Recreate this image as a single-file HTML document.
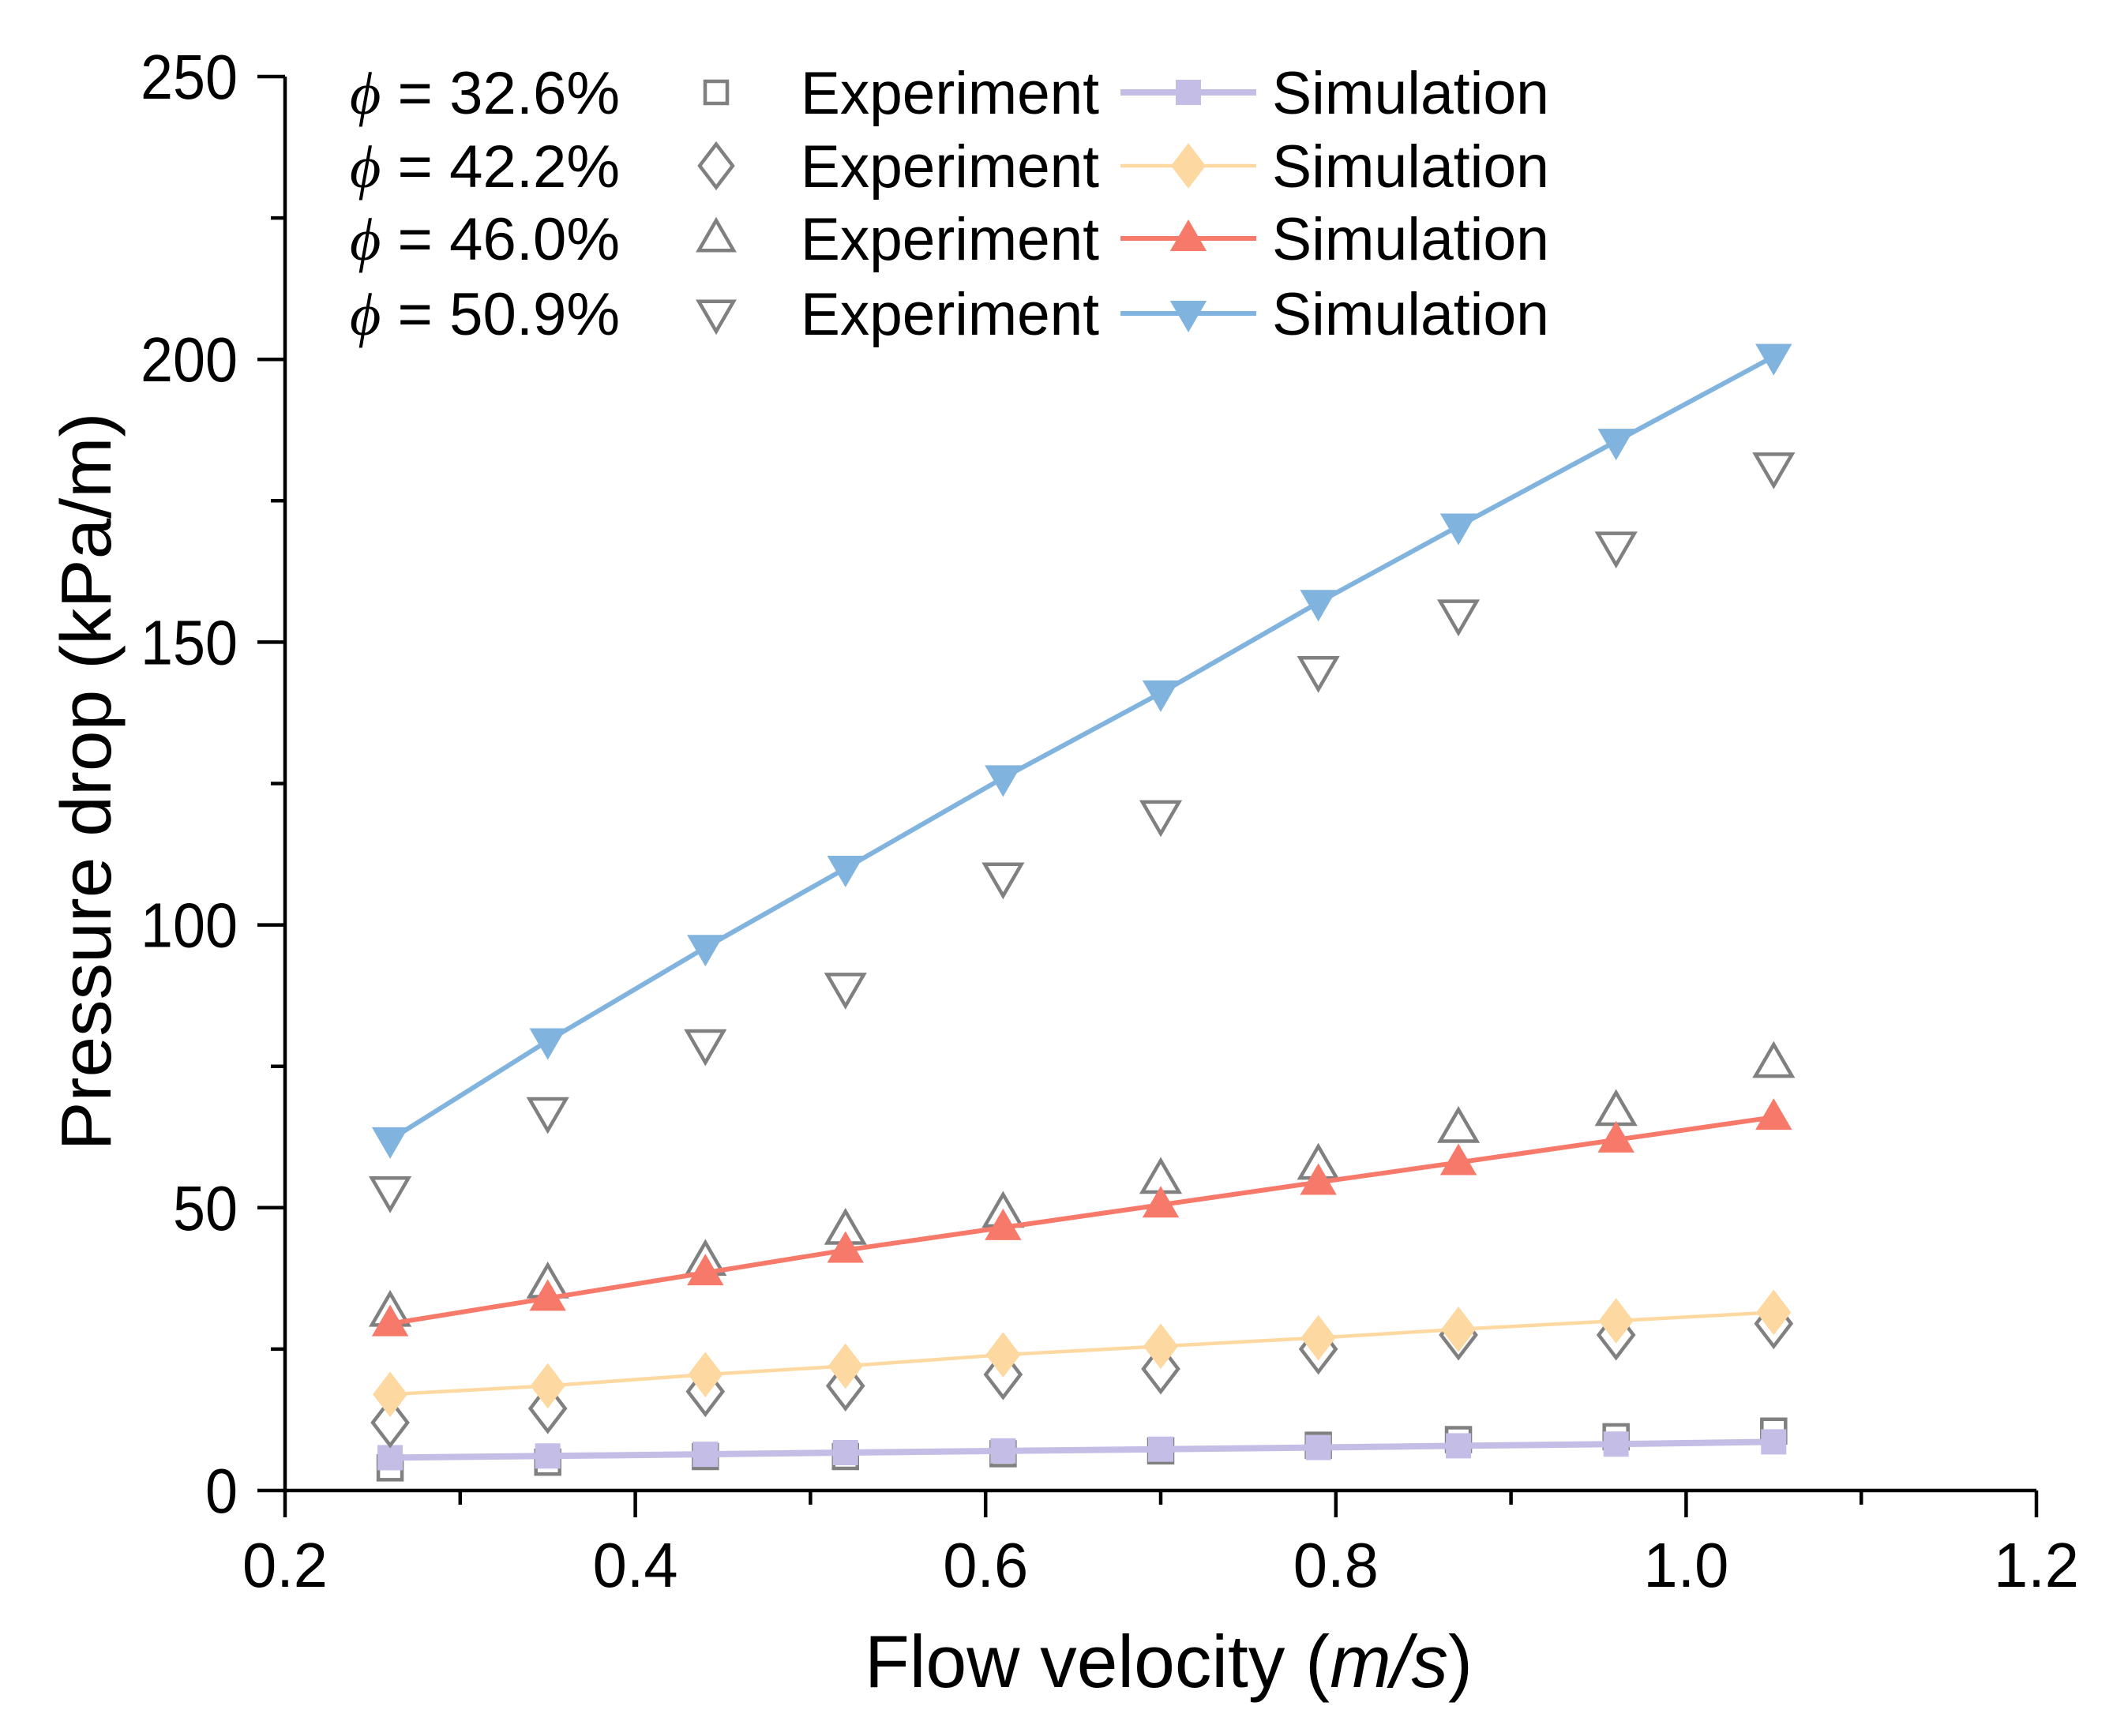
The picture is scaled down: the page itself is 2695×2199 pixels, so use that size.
<!DOCTYPE html>
<html><head><meta charset="utf-8"><style>html,body{margin:0;padding:0;background:#fff}svg{display:block}</style></head>
<body>
<svg id="chart" width="2695" height="2199" viewBox="0 0 2695 2199" xmlns="http://www.w3.org/2000/svg" font-family="'Liberation Sans', sans-serif">
<g id="axes"></g>
<g id="series"></g>
<g id="legend"></g>
</svg>
<script>
const xValues = [0.26,0.35,0.44,0.52,0.61,0.70,0.79,0.87,0.96,1.05];
const simPhi326 = [5.8,6.1,6.4,6.7,7.0,7.3,7.6,7.9,8.2,8.6];
const expPhi326 = [4,5,6,6,6.5,7,8,9,9.5,10.5];
const simPhi422 = [17,18.5,20.5,22,24,25.5,27,28.5,30,31.5];
const expPhi422 = [12,14.5,17.5,18.5,20.5,21.5,25,27.5,27.5,29.5];
const simPhi460 = [29.5,34,38.5,42.5,46.5,50.5,54.5,58,62,66];
const expPhi460 = [31.5,36.5,40.5,46,49,55,57.5,64,67,75.5];
const simPhi509 = [62,79.5,96,110,126,141,157,170.5,185.5,200.5];
const expPhi509 = [53,67,79,89,108.5,119.5,145,155,167,181];
const xTicks = [0.2,0.4,0.6,0.8,1.0,1.2];
const xTickLabels = ["0.2","0.4","0.6","0.8","1.0","1.2"];
const yTicks = [0,50,100,150,200,250];
const yTickLabels = ["0","50","100","150","200","250"];
const legendValues = ["32.6%","42.2%","46.0%","50.9%"];

const NS="http://www.w3.org/2000/svg";
const X0=361,X1=2579,Y0=1888,Y1=97;
function sx(v){return X0+(v-0.2)/(1.0)*(X1-X0);}
function sy(v){return Y0-v/250*(Y0-Y1);}
function mk(tag,attrs,parent){const e=document.createElementNS(NS,tag);for(const k in attrs)e.setAttribute(k,attrs[k]);parent.appendChild(e);return e;}
const axes=document.getElementById('axes'),series=document.getElementById('series'),legend=document.getElementById('legend');

let e;
e=mk('line',{x1:X0-2,y1:Y0,x2:X1,y2:Y0,stroke:'#000','stroke-width':4.5},axes);

e=mk('line',{x1:X0,y1:Y0+2,x2:X0,y2:Y1,stroke:'#000','stroke-width':4.5},axes);

xTicks.forEach((t,i)=>{
  const x=sx(t);
  let l=mk('line',{x1:x,y1:Y0,x2:x,y2:Y0+34,stroke:'#000','stroke-width':4.5},axes);
  
  if(i<xTicks.length-1){const xm=sx(t+0.1);let m=mk('line',{x1:xm,y1:Y0,x2:xm,y2:Y0+18,stroke:'#000','stroke-width':4.5},axes);
  }
  let tx=mk('text',{x:x,y:2010,'font-size':80,'text-anchor':'middle',fill:'#000',textLength:108,lengthAdjust:'spacingAndGlyphs'},axes);tx.textContent=xTickLabels[i];
  
});
yTicks.forEach((t,i)=>{
  const y=sy(t);
  let l=mk('line',{x1:X0-35,y1:y,x2:X0,y2:y,stroke:'#000','stroke-width':4.5},axes);
  
  if(i<yTicks.length-1){const ym=sy(t+25);let m=mk('line',{x1:X0-18,y1:ym,x2:X0,y2:ym,stroke:'#000','stroke-width':4.5},axes);
  }
  let tx=mk('text',{x:301,y:y+28,'font-size':80,'text-anchor':'end',fill:'#000',textLength:yTickLabels[i].length*41,lengthAdjust:'spacingAndGlyphs'},axes);tx.textContent=yTickLabels[i];
  
});
e=mk('text',{x:1480,y:2137,'font-size':94,'text-anchor':'middle',fill:'#000',textLength:770,lengthAdjust:'spacingAndGlyphs'},axes);
e.innerHTML='Flow velocity (<tspan font-style="italic">m/s</tspan>)';

e=mk('text',{x:0,y:0,'font-size':90,'text-anchor':'middle',fill:'#000',transform:'translate(140,990) rotate(-90)',textLength:935,lengthAdjust:'spacingAndGlyphs'},axes);
e.textContent='Pressure drop (kPa/m)';


function marker(shape,x,y,s,fill,stroke,sw,parent){
  let m;
  if(shape==='square') m=mk('rect',{x:x-s/2,y:y-s/2,width:s,height:s},parent);
  else if(shape==='diamond') m=mk('polygon',{points:`${x},${y-s*0.72} ${x+s*0.55},${y} ${x},${y+s*0.72} ${x-s*0.55},${y}`},parent);
  else if(shape==='up') m=mk('polygon',{points:`${x},${y-s*0.6} ${x+s*0.58},${y+s*0.4} ${x-s*0.58},${y+s*0.4}`},parent);
  else m=mk('polygon',{points:`${x},${y+s*0.6} ${x+s*0.58},${y-s*0.4} ${x-s*0.58},${y-s*0.4}`},parent);
  m.setAttribute('fill',fill);m.setAttribute('stroke',stroke);m.setAttribute('stroke-width',sw);
  return m;
}
const defs=[
 {sim:simPhi326,exp:expPhi326,shape:'square',color:'#c4bde6',lw:8,name:'phi-32-6'},
 {sim:simPhi422,exp:expPhi422,shape:'diamond',color:'#fdd9a1',lw:4.5,name:'phi-42-2'},
 {sim:simPhi460,exp:expPhi460,shape:'up',color:'#f7796a',lw:6,name:'phi-46-0'},
 {sim:simPhi509,exp:expPhi509,shape:'down',color:'#80b3de',lw:6,name:'phi-50-9'}];
defs.forEach((d,k)=>{
  const g=mk('g',{},series);
  
  xValues.forEach((xv,i)=>{let m=marker(d.shape,sx(xv),sy(d.exp[i]),d.shape==='square'?30:40,'none','#808080',4.5,g);
    });
  let p=mk('polyline',{points:xValues.map((xv,i)=>sx(xv)+','+sy(d.sim[i])).join(' '),fill:'none',stroke:d.color,'stroke-width':d.lw},g);
  
  xValues.forEach((xv,i)=>{let m=marker(d.shape,sx(xv),sy(d.sim[i]),d.shape==='square'?32:40,d.color,'none',0,g);
    });
  const ly=[117,210,302,397][k];
  let t=mk('text',{x:443,y:ly+27,'font-size':76,fill:'#000',textLength:342,lengthAdjust:'spacingAndGlyphs'},legend);
  t.innerHTML='<tspan font-family="Liberation Serif, serif" font-style="italic">\u03D5</tspan> = '+legendValues[k];
  
  let m=marker(d.shape,907,ly,d.shape==='square'?28:38,'none','#808080',4.5,legend);
  
  t=mk('text',{x:1014,y:ly+27,'font-size':76,fill:'#000',textLength:378,lengthAdjust:'spacingAndGlyphs'},legend);
  t.textContent='Experiment';
  
  let l=mk('line',{x1:1419,y1:ly,x2:1591,y2:ly,stroke:d.color,'stroke-width':d.lw},legend);
  
  m=marker(d.shape,1505,ly,d.shape==='square'?32:40,d.color,'none',0,legend);
  
  t=mk('text',{x:1611,y:ly+27,'font-size':76,fill:'#000',textLength:351,lengthAdjust:'spacingAndGlyphs'},legend);
  t.textContent='Simulation';
  
});
</script>
</body></html>
